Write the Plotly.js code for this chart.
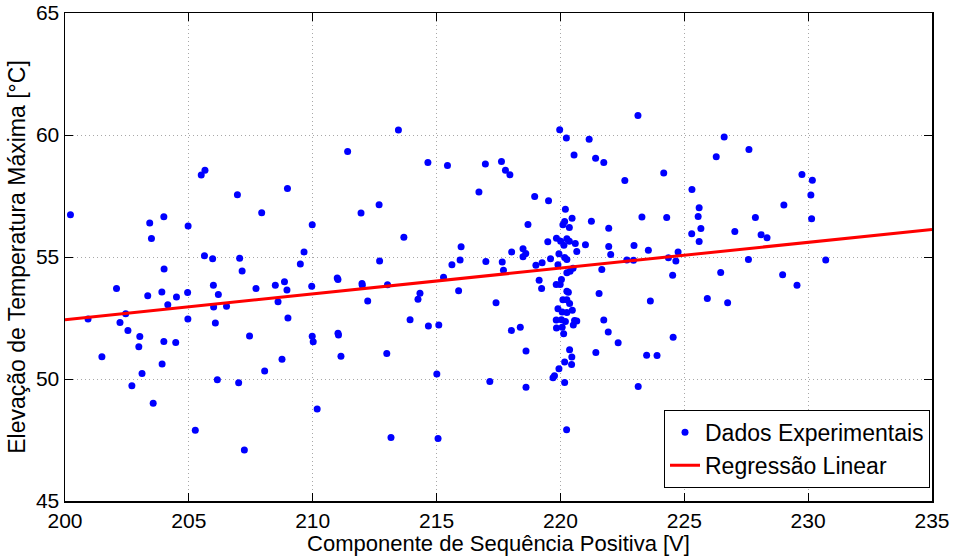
<!DOCTYPE html>
<html>
<head>
<meta charset="utf-8">
<script src="https://cdn.plot.ly/plotly-3.0.1.min.js"></script>
<style>html,body{margin:0;padding:0;background:#fff;}#chart{width:954px;height:556px;}</style>
</head>
<body>
<div id="chart"></div>
<script>
// Experimental data: positive sequence component [V] vs max temperature rise [°C]
const voltage = [
200.22,205.65,205.5,203.42,203.99,203.49,204.97,205.63,204.0,202.08,
203.34,203.91,204.5,204.95,204.15,202.45,200.93,202.22,204.96,202.54,
203.02,202.98,203.99,204.47,201.49,203.92,203.11,202.7,203.56,205.26,
211.41,206.96,208.98,207.94,209.98,205.96,207.05,209.65,209.5,207.15,
205.99,206.19,207.71,208.49,208.86,208.96,209.96,210.99,211.02,206.0,
206.52,208.6,206.07,209.0,207.45,209.98,210.02,211.02,211.04,211.14,
208.76,208.06,206.15,207.01,210.18,207.24,
213.46,214.65,215.44,216.97,216.71,212.68,211.95,213.68,215.99,212.7,
215.62,215.95,216.99,211.99,212.0,213.02,215.28,212.22,214.33,214.25,
215.89,213.93,214.67,215.09,212.99,215.01,217.15,213.16,215.06,
219.97,220.24,220.55,217.62,217.78,217.96,218.96,219.52,218.69,220.2,
220.47,220.1,220.17,220.36,219.49,219.84,220.01,220.26,220.36,220.14,
220.6,220.66,218.03,218.49,218.6,218.49,217.65,217.7,219.01,219.26,
219.6,219.94,220.17,220.26,219.9,220.51,220.39,220.26,219.14,219.24,
220.04,219.99,219.83,220.26,220.32,220.1,220.26,220.37,220.48,220.26,
220.07,219.9,220.57,220.66,219.83,220.04,220.2,220.07,219.84,220.13,
217.4,218.02,218.38,218.61,220.37,220.46,220.17,220.45,219.94,219.76,
219.7,220.17,218.61,220.25,
223.13,221.16,221.42,221.75,226.29,224.17,222.6,225.31,225.6,225.56,
225.67,225.3,225.6,221.25,221.95,223.29,224.29,221.01,221.95,222.03,
222.97,223.55,222.68,222.95,224.75,224.36,224.66,224.53,226.47,221.67,
221.56,223.63,225.93,221.75,220.52,221.93,222.33,224.55,221.43,223.48,
223.9,223.14,
226.61,227.61,229.75,230.17,230.11,229.02,230.14,227.87,227.04,228.1,
228.34,227.59,230.71,228.97,229.55,226.75
];
const temperature = [
56.73,58.56,58.36,56.39,56.65,55.76,56.27,55.05,54.51,53.71,
53.41,53.57,53.36,53.54,53.04,52.67,52.46,52.32,52.46,51.99,
51.74,51.32,51.54,51.5,50.91,50.61,50.23,49.72,49.01,47.9,
59.32,57.55,57.81,56.81,56.32,54.93,54.95,55.21,54.71,54.43,
53.84,53.46,53.71,53.84,53.99,53.65,53.8,54.14,54.08,52.95,
52.98,53.17,52.3,52.5,51.76,51.75,51.53,51.87,51.8,50.93,
50.81,50.33,49.97,49.85,48.77,47.09,
60.2,58.87,58.75,58.81,57.66,57.14,56.8,55.81,55.42,54.84,
54.68,54.88,54.82,53.91,53.84,53.86,54.17,53.2,53.51,53.27,
53.62,52.43,52.17,52.21,51.04,50.2,49.9,47.6,47.56,
60.22,59.88,59.18,58.91,58.56,58.37,57.48,57.31,56.33,56.96,
56.59,56.32,56.46,56.21,55.62,55.77,55.65,55.75,55.65,55.48,
55.55,55.23,55.21,55.34,55.14,55.01,54.8,54.46,54.66,54.76,
54.93,55.13,54.98,54.9,54.68,54.54,54.42,54.35,54.05,53.71,
54.08,53.87,53.87,53.6,53.56,53.25,53.25,53.09,52.82,52.73,
52.75,52.88,52.4,52.38,52.42,52.43,52.36,52.12,52.09,51.85,
53.13,51.99,52.12,51.15,51.2,50.9,50.7,50.59,50.42,50.13,
50.05,49.86,49.66,47.92,
60.8,59.83,59.05,58.87,59.11,58.44,58.14,57.77,57.02,56.66,
56.17,55.95,55.64,56.47,56.18,56.64,56.62,55.5,55.43,55.1,
55.47,55.28,54.88,54.87,55.21,54.97,54.84,54.25,54.36,54.49,
53.5,53.2,53.3,52.42,52.21,51.93,51.49,51.71,51.09,50.97,
50.96,49.69,
59.92,59.41,58.38,58.15,57.54,57.13,56.57,56.62,56.05,55.91,
55.79,54.9,54.88,54.27,53.84,53.13
];
// Linear regression line endpoints
const regVoltage = [200, 235];
const regTemperature = [52.43, 56.13];

const xTicks = [200, 205, 210, 215, 220, 225, 230, 235];
const yTicks = [45, 50, 55, 60, 65];

const FONT = 'Liberation Sans, Arial, Helvetica, sans-serif';

const traces = [
  {
    x: voltage, y: temperature, type: 'scatter', mode: 'markers',
    name: 'Dados Experimentais',
    marker: {color: '#0000ff', size: 7}
  },
  {
    x: regVoltage, y: regTemperature, type: 'scatter', mode: 'lines',
    name: 'Regressão Linear',
    line: {color: '#ff0000', width: 3}
  }
];

const axisCommon = {
  showline: true, mirror: 'ticks', linecolor: '#000', linewidth: 1.5,
  ticks: 'inside', ticklen: 8, tickwidth: 1, tickcolor: '#000',
  showgrid: true, gridcolor: '#a8a8a8', griddash: '1px,3px', gridwidth: 1,
  zeroline: false,
  tickfont: {family: FONT, size: 21, color: '#000'}
};

const layout = {
  width: 954, height: 556,
  margin: {l: 65, r: 22, t: 13, b: 55},
  paper_bgcolor: '#fff', plot_bgcolor: '#fff',
  font: {family: FONT, color: '#000'},
  showlegend: true,
  xaxis: Object.assign({}, axisCommon, {
    range: [200, 235], tickvals: xTicks, ticktext: xTicks.map(String),
    title: {text: 'Componente de Sequência Positiva [V]', font: {family: FONT, size: 22, color: '#000'}, standoff: 3}
  }),
  yaxis: Object.assign({}, axisCommon, {
    range: [45, 65], tickvals: yTicks, ticktext: yTicks.map(String),
    title: {text: 'Elevação de Temperatura Máxima [°C]', font: {family: FONT, size: 23, color: '#000'}, standoff: 4}
  }),
  legend: {
    x: 0.9977, xanchor: 'right', y: 0.027, yanchor: 'bottom',
    bgcolor: '#fff', bordercolor: '#000', borderwidth: 1,
    font: {family: FONT, size: 23, color: '#000'},
    tracegroupgap: 0
  }
};

Plotly.newPlot('chart', traces, layout, {displayModeBar: false, staticPlot: true});
</script>
</body>
</html>
